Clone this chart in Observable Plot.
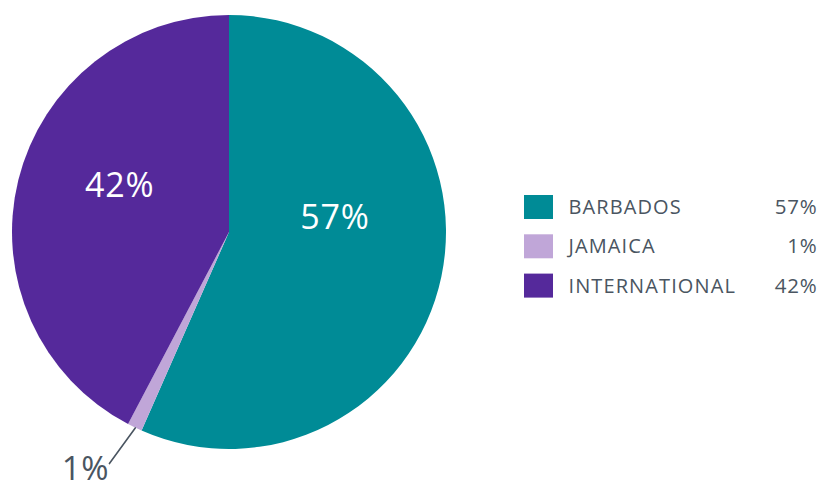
<!DOCTYPE html>
<html>
<head>
<meta charset="utf-8">
<script src="https://cdn.jsdelivr.net/npm/d3@7"></script>
<script src="https://cdn.jsdelivr.net/npm/@observablehq/plot@0.6"></script>
<style>
  html, body { margin: 0; padding: 0; background: #fff; }
  svg { display: block; }
</style>
</head>
<body>
<div id="chart"></div>
<script>
// ---- data ----
const categories = ["BARBADOS", "JAMAICA", "INTERNATIONAL"];
const shares = [56.6, 1.1, 42.3];
const shareLabels = ["57%", "1%", "42%"];
const colors = ["#008b96", "#c0a6d8", "#55299b"];

// ---- layout ----
const W = 819, H = 482;
const cx = 229, cy = 232, R = 217;
const textColor = "#4a5561";
const font = "'Open Sans', 'Noto Sans', sans-serif";

const rows = categories.map((c, i) => ({category: c, share: shares[i], label: shareLabels[i], i}));

const pie = d3.pie().sort(null).value(d => d.share).startAngle(0).endAngle(2 * Math.PI);
const arcs = pie(rows);
const arcGen = d3.arc().innerRadius(0).outerRadius(R);

// label placement (angle offset in radians, radius fraction) per slice
const labelLayout = [
  {da: -0.34, rf: 0.49, inside: true},
  {da: 0.03, rf: 1.2, inside: false},
  {da: 0.16, rf: 0.55, inside: true}
];
const labels = arcs.map((a, i) => {
  const mid = (a.startAngle + a.endAngle) / 2 + labelLayout[i].da;
  const r = R * labelLayout[i].rf;
  return {...a.data, lx: cx + r * Math.sin(mid), ly: cy - r * Math.cos(mid), mid, inside: labelLayout[i].inside};
});
const outside = labels.filter(d => !d.inside);
const leader = outside.flatMap(d => {
  const m = (arcs[d.i].startAngle + arcs[d.i].endAngle) / 2;
  return [
    {i: d.i, x: cx + R * Math.sin(m), y: cy - R * Math.cos(m)},
    {i: d.i, x: d.lx, y: d.ly}
  ];
});

const rowY = i => 207 + i * 39.3;

const chart = Plot.plot({
  width: W, height: H,
  margin: 0,
  x: {domain: [0, W], range: [0, W], axis: null},
  y: {domain: [0, H], range: [0, H], axis: null},
  color: {domain: categories, range: colors},
  style: {fontFamily: font, background: "#fff"},
  marks: [
    // pie slices
    (index, scales) => {
      const g = d3.create("svg:g")
        .attr("transform", `translate(${scales.x(cx)},${scales.y(cy)})`);
      g.selectAll("path").data(arcs).join("path")
        .attr("d", arcGen)
        .attr("fill", d => scales.color(d.data.category));
      return g.node();
    },
    // leader line for small slice
    Plot.line(leader, {x: "x", y: "y", z: "i", stroke: textColor, strokeWidth: 1.6}),
    // inside labels
    Plot.text(labels.filter(d => d.inside), {
      x: "lx", y: "ly", text: "label", fill: "white",
      fontSize: 34, textAnchor: "middle", lineAnchor: "middle"
    }),
    // outside labels
    Plot.text(outside, {
      x: "lx", y: "ly", text: "label", fill: textColor,
      fontSize: 33, textAnchor: "end", lineAnchor: "bottom", dx: 0, dy: 16
    }),
    // legend swatches
    Plot.rect(rows, {
      x1: 524, x2: 553,
      y1: d => rowY(d.i) - 12, y2: d => rowY(d.i) + 12,
      fill: "category"
    }),
    Plot.text(rows, {
      x: 568, y: d => rowY(d.i), text: "category", fill: textColor,
      fontSize: 20, textAnchor: "start", lineAnchor: "middle"
    }),
    Plot.text(rows, {
      x: 817, y: d => rowY(d.i), text: "label", fill: textColor,
      fontSize: 20.5, textAnchor: "end", lineAnchor: "middle"
    })
  ]
});
// legend letter spacing (styling)
d3.select(chart).selectAll("text")
  .filter(function() { return categories.includes(this.textContent); })
  .style("letter-spacing", "1.1px");
d3.select(chart).selectAll("text")
  .filter(function() { return shareLabels.includes(this.textContent) && +this.getAttribute("font-size") !== 33 && this.getAttribute("fill") !== "white"; })
  .style("letter-spacing", "0.8px");
document.getElementById("chart").append(chart);
</script>
</body>
</html>
